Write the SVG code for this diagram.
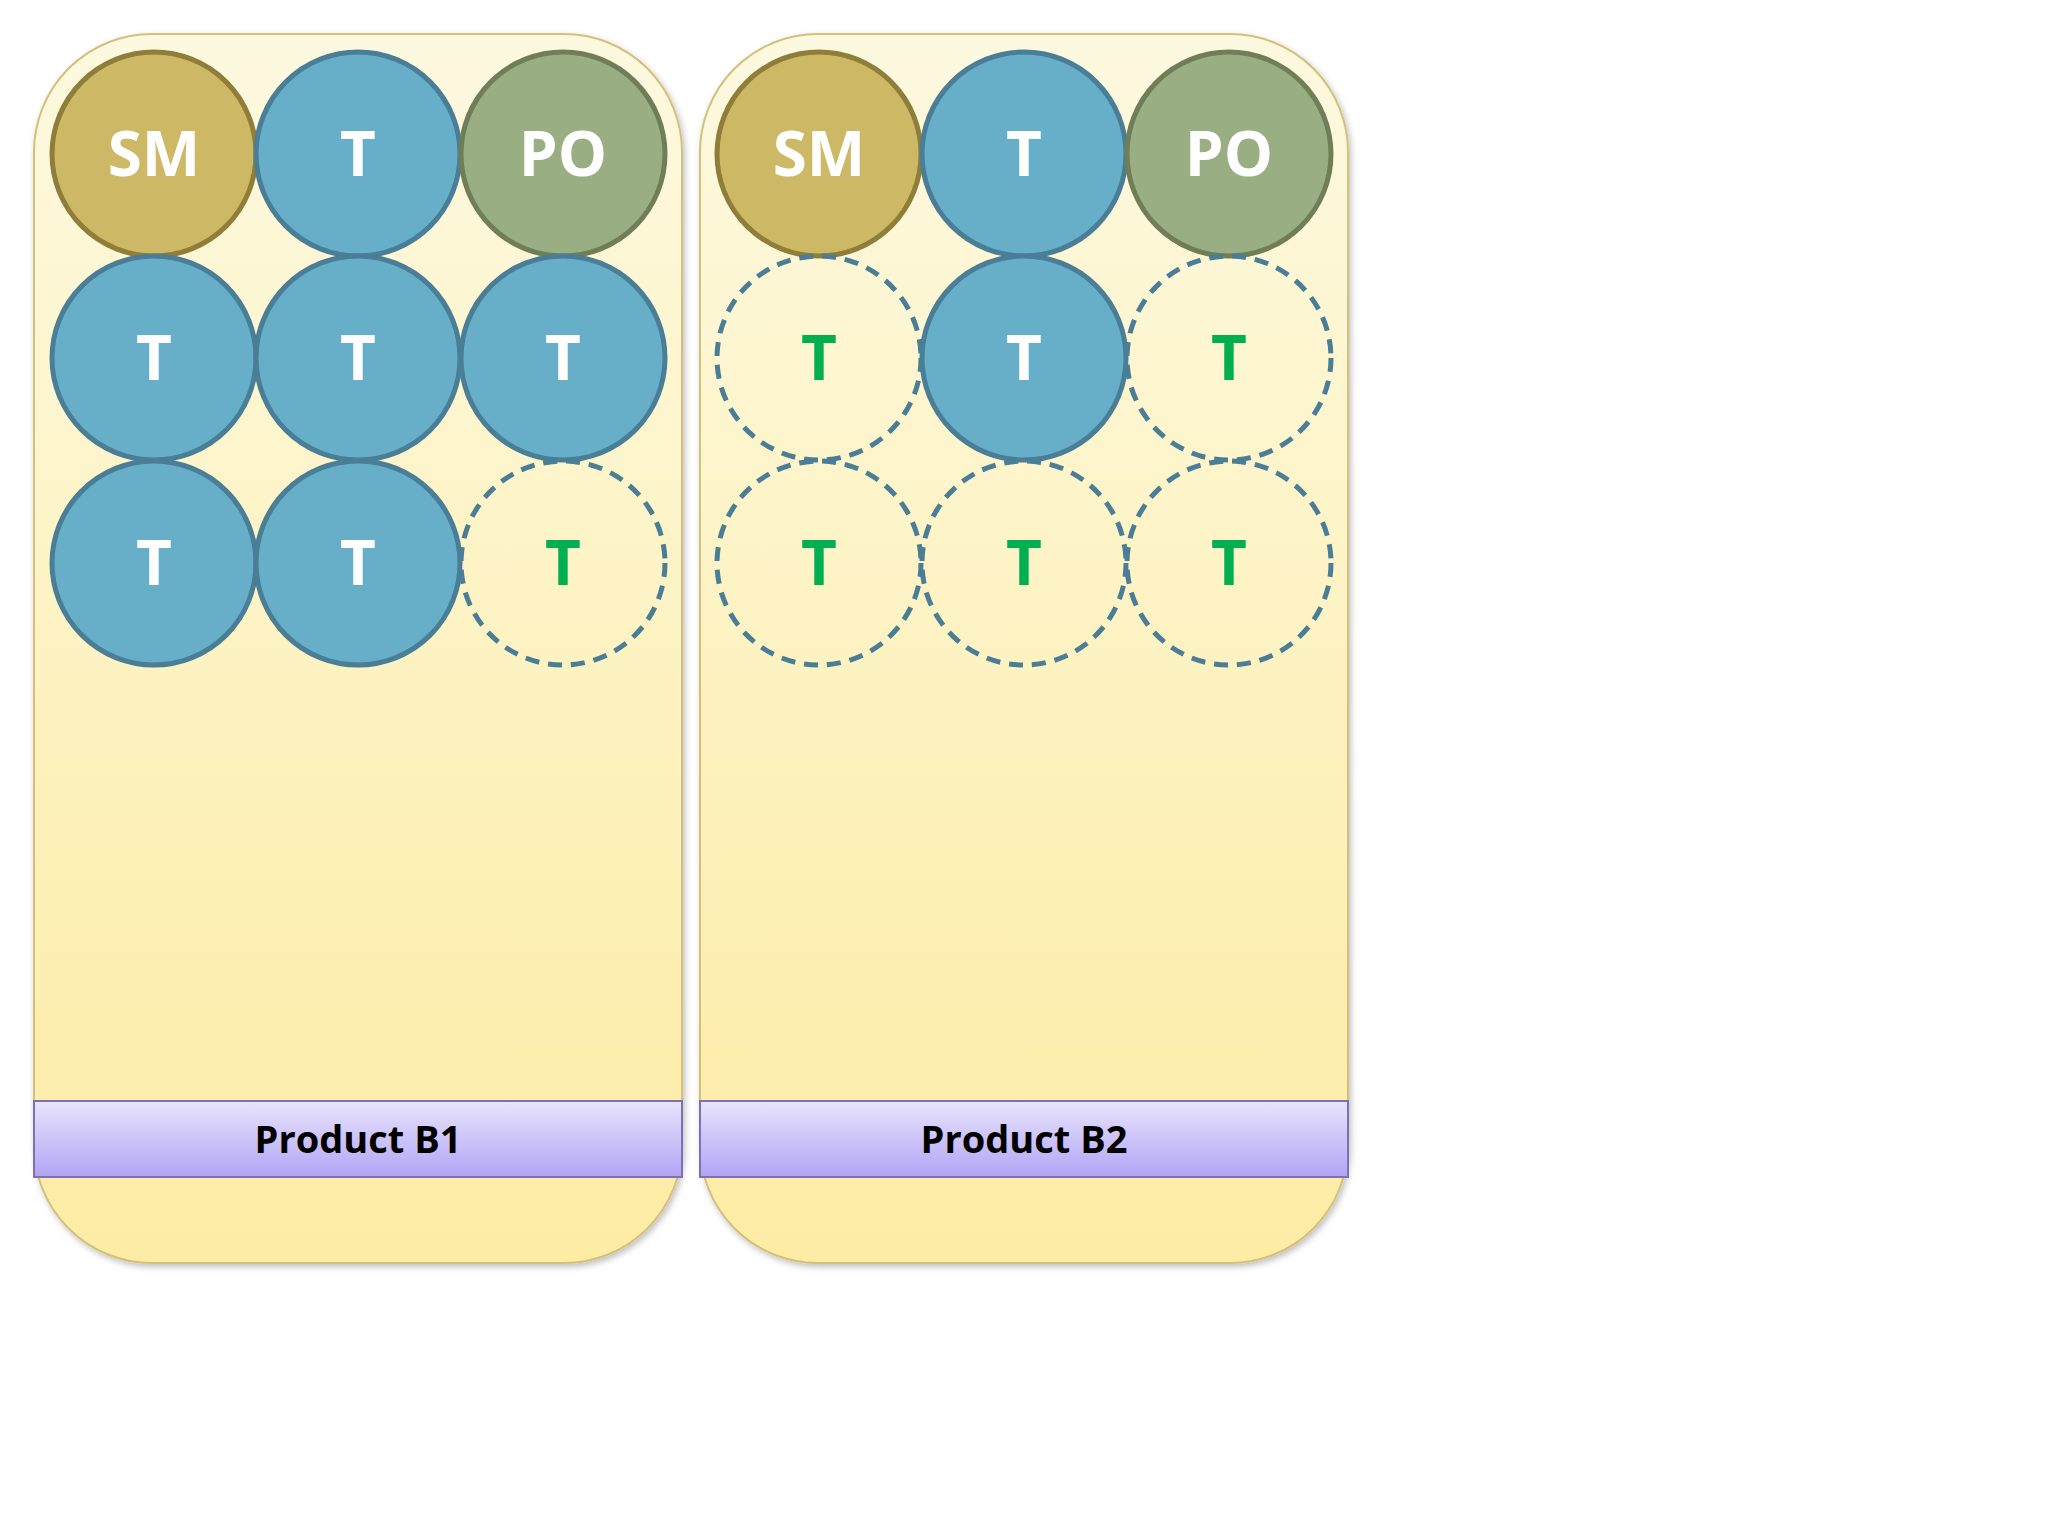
<svg xmlns="http://www.w3.org/2000/svg" width="2048" height="1536" viewBox="0 0 2048 1536">
<defs>
<linearGradient id="pg" x1="0" y1="0" x2="0" y2="1"><stop offset="0" stop-color="#fdf9e0"/><stop offset="1" stop-color="#fdeca4"/></linearGradient>
<linearGradient id="bg" x1="0" y1="0" x2="0" y2="1"><stop offset="0" stop-color="#e9e4fd"/><stop offset="1" stop-color="#b1a4f4"/></linearGradient>
<filter id="sh" x="-5%" y="-5%" width="110%" height="110%"><feDropShadow dx="2" dy="3" stdDeviation="3" flood-opacity="0.25"/></filter>
</defs>
<style>
.panel{fill:url(#pg);stroke:#d4c07a;stroke-width:2}
.bar{fill:url(#bg);stroke:#7f6fb5;stroke-width:2}
.sm{fill:#cdb866;stroke:#8f7d3a;stroke-width:5}
.t{fill:#67aec8;stroke:#4a7d96;stroke-width:5}
.po{fill:#9aae84;stroke:#6f7e56;stroke-width:5}
.d{fill:none;stroke:#4a7d96;stroke-width:5;stroke-dasharray:14 9}
.lw{font-family:"Open Sans","Liberation Sans",sans-serif;font-weight:bold;font-size:62px;fill:#fff;text-anchor:middle}
.lg{font-family:"Open Sans","Liberation Sans",sans-serif;font-weight:bold;font-size:62px;fill:#00b050;text-anchor:middle}
.bl{font-family:"Open Sans","Liberation Sans",sans-serif;font-weight:bold;font-size:38px;fill:#000;text-anchor:middle}
</style>
<rect width="2048" height="1536" fill="#fff"/>
<g id="panel1">
<rect class="panel" x="34" y="34" width="648" height="1229" rx="118" filter="url(#sh)"/>
<rect class="bar" x="34" y="1101" width="648" height="76"/>
<text class="bl" x="358" y="1153">Product B1</text>
</g>
<g id="panel2">
<rect class="panel" x="700" y="34" width="648" height="1229" rx="118" filter="url(#sh)"/>
<rect class="bar" x="700" y="1101" width="648" height="76"/>
<text class="bl" x="1024" y="1153">Product B2</text>
</g>
<g id="p1-sm"><circle class="sm" cx="154" cy="154" r="102"/><text class="lw" x="154" y="176">SM</text></g>
<g id="p1-t1"><circle class="t" cx="358" cy="154" r="102"/><text class="lw" x="358" y="176">T</text></g>
<g id="p1-po"><circle class="po" cx="563" cy="154" r="102"/><text class="lw" x="563" y="176">PO</text></g>
<g id="p1-t2"><circle class="t" cx="154" cy="358" r="102"/><text class="lw" x="154" y="380">T</text></g>
<g id="p1-t3"><circle class="t" cx="358" cy="358" r="102"/><text class="lw" x="358" y="380">T</text></g>
<g id="p1-t4"><circle class="t" cx="563" cy="358" r="102"/><text class="lw" x="563" y="380">T</text></g>
<g id="p1-t5"><circle class="t" cx="154" cy="563" r="102"/><text class="lw" x="154" y="585">T</text></g>
<g id="p1-t6"><circle class="t" cx="358" cy="563" r="102"/><text class="lw" x="358" y="585">T</text></g>
<g id="p1-t7"><circle class="d" cx="563" cy="563" r="102"/><text class="lg" x="563" y="585">T</text></g>
<g id="p2-sm"><circle class="sm" cx="819" cy="154" r="102"/><text class="lw" x="819" y="176">SM</text></g>
<g id="p2-t1"><circle class="t" cx="1024" cy="154" r="102"/><text class="lw" x="1024" y="176">T</text></g>
<g id="p2-po"><circle class="po" cx="1229" cy="154" r="102"/><text class="lw" x="1229" y="176">PO</text></g>
<g id="p2-t2"><circle class="d" cx="819" cy="358" r="102"/><text class="lg" x="819" y="380">T</text></g>
<g id="p2-t3"><circle class="t" cx="1024" cy="358" r="102"/><text class="lw" x="1024" y="380">T</text></g>
<g id="p2-t4"><circle class="d" cx="1229" cy="358" r="102"/><text class="lg" x="1229" y="380">T</text></g>
<g id="p2-t5"><circle class="d" cx="819" cy="563" r="102"/><text class="lg" x="819" y="585">T</text></g>
<g id="p2-t6"><circle class="d" cx="1024" cy="563" r="102"/><text class="lg" x="1024" y="585">T</text></g>
<g id="p2-t7"><circle class="d" cx="1229" cy="563" r="102"/><text class="lg" x="1229" y="585">T</text></g>
<g id="connectors"/>
</svg>
